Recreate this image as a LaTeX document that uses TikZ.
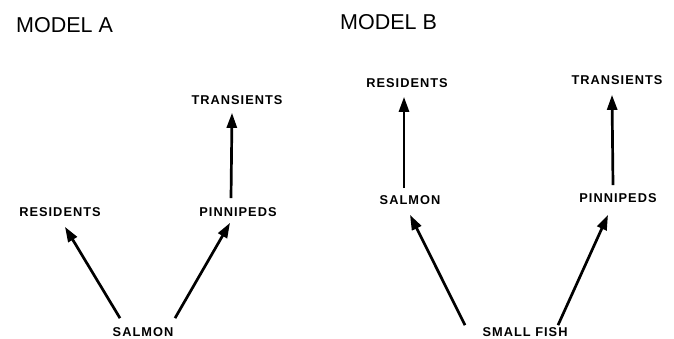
\documentclass[tikz,border=0pt]{standalone}
\usepackage{fontspec}
\setmainfont{Liberation Sans}
\usetikzlibrary{arrows.meta}
\tikzset{
  lab/.style={font=\fontsize{12.8}{14}\selectfont\bfseries\addfontfeatures{LetterSpace=8}, inner sep=0pt, text height=9.3pt, text depth=0pt},
  ttl/.style={font=\fontsize{21.5}{24}\selectfont, inner sep=0pt, anchor=base west},
  arr/.style={line width=2.7pt, -{Triangle[length=15pt,width=10pt]}}
}
\begin{document}
\begin{tikzpicture}[x=1pt,y=-1pt]
\useasboundingbox (0,0) rectangle (674,338);
% titles
\node[ttl] (tA) at (16,32) {MODEL A};
\node[ttl] (tB) at (340,29) {MODEL B};
% model A
\node[lab] (transA) at (237,100) {TRANSIENTS};
\node[lab] (resA) at (60,212) {RESIDENTS};
\node[lab] (pinA) at (238,212) {PINNIPEDS};
\node[lab] (salA) at (143,331.5) {SALMON};
\draw[arr] ([xshift=-23pt,yshift=8.5pt]salA.north) -- ([xshift=5pt,yshift=-10pt]resA.south);
\draw[arr] ([xshift=32pt,yshift=8.5pt]salA.north) -- ([xshift=-8pt,yshift=-6pt]pinA.south);
\draw[arr] ([xshift=-7pt,yshift=9pt]pinA.north) -- ([xshift=-5pt,yshift=-8pt]transA.south);
% model B
\node[lab] (resB) at (407,83) {RESIDENTS};
\node[lab] (transB) at (617,80) {TRANSIENTS};
\node[lab] (salB) at (410,200) {SALMON};
\node[lab] (pinB) at (618,198) {PINNIPEDS};
\node[lab] (fishB) at (525,331.5) {SMALL FISH};
\draw[arr] ([xshift=-6pt,yshift=7pt]salB.north) -- ([xshift=-3pt,yshift=-9pt]resB.south);
\draw[arr] ([xshift=-5pt,yshift=8pt]pinB.north) -- ([xshift=-5pt,yshift=-10pt]transB.south);
\draw[arr] ([xshift=-60pt,yshift=1.5pt]fishB.north) -- ([xshift=0pt,yshift=-10pt]salB.south);
\draw[arr] ([xshift=33pt,yshift=1.5pt]fishB.north) -- ([xshift=-10pt,yshift=-12pt]pinB.south);
\end{tikzpicture}
\end{document}
